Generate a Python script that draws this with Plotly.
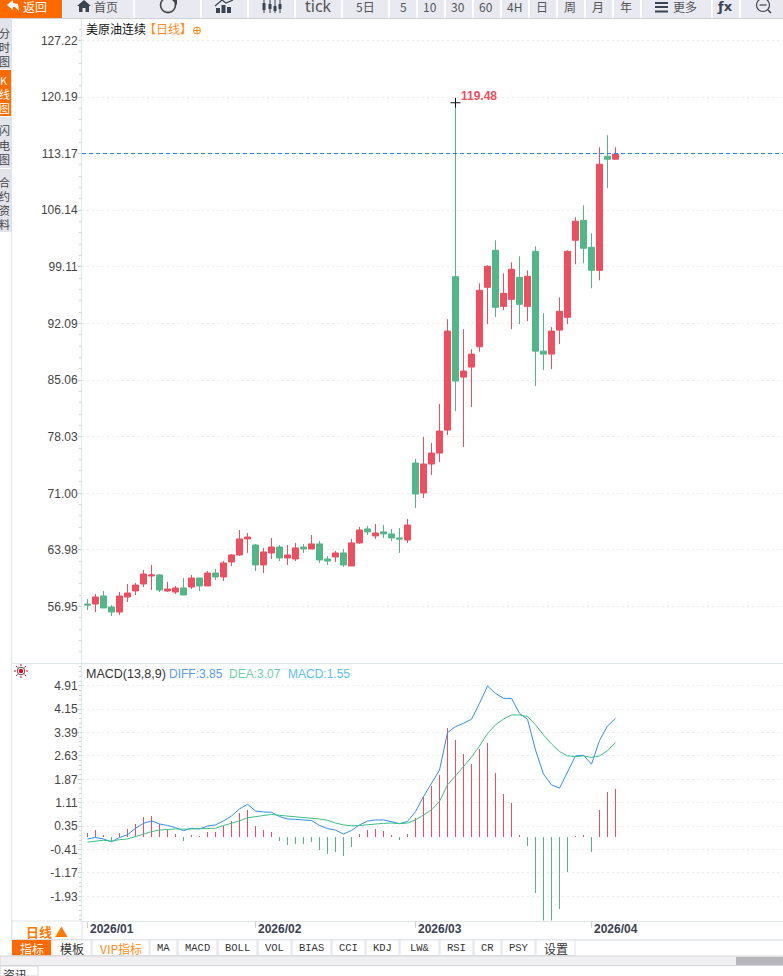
import math
import plotly.graph_objects as go

DATES = [
 "2026/01/02","2026/01/05","2026/01/06","2026/01/07","2026/01/08","2026/01/09","2026/01/12","2026/01/13","2026/01/14","2026/01/15","2026/01/16",
 "2026/01/19","2026/01/20","2026/01/21","2026/01/22","2026/01/23","2026/01/26","2026/01/27","2026/01/28","2026/01/29","2026/01/30",
 "2026/02/02","2026/02/03","2026/02/04","2026/02/05","2026/02/06","2026/02/09","2026/02/10","2026/02/11","2026/02/12","2026/02/13",
 "2026/02/16","2026/02/17","2026/02/18","2026/02/19","2026/02/20","2026/02/23","2026/02/24","2026/02/25","2026/02/26","2026/02/27",
 "2026/03/02","2026/03/03","2026/03/04","2026/03/05","2026/03/06","2026/03/09","2026/03/10","2026/03/11","2026/03/12","2026/03/13",
 "2026/03/16","2026/03/17","2026/03/18","2026/03/19","2026/03/20","2026/03/23","2026/03/24","2026/03/25","2026/03/26","2026/03/27",
 "2026/03/30","2026/03/31","2026/04/01","2026/04/02","2026/04/03","2026/04/06"]

OPEN = [57.26,57.26,58.26,56.89,56.27,58.13,58.88,59.75,60.74,60.87,58.88,58.75,59.25,59.37,60.49,59.50,61.11,60.62,62.48,63.35,65.34,
        64.59,62.11,63.60,64.34,62.98,62.85,64.34,64.09,64.72,62.85,63.10,63.60,61.98,64.84,66.58,65.71,66.21,65.96,65.46,65.21,
        74.76,71.04,74.64,76.00,78.85,97.88,85.43,86.67,89.19,96.57,101.17,94.21,95.08,97.81,94.21,101.04,88.65,88.28,91.26,92.85,
        102.41,104.89,101.54,98.68,112.84,112.47]
HIGH = [57.88,58.51,58.88,57.14,58.75,59.75,59.87,61.49,62.11,60.99,60.00,59.50,60.49,60.87,60.49,61.36,61.61,62.60,63.47,66.45,66.08,
        64.72,64.22,65.46,64.59,64.59,64.84,64.72,65.83,65.09,63.22,63.85,64.09,65.34,66.83,66.95,67.20,67.08,66.58,66.70,67.82,
        75.26,77.99,77.24,82.08,92.62,119.48,91.38,88.90,97.07,99.31,102.41,98.31,99.68,100.42,98.68,101.67,93.37,91.63,95.33,101.17,
        105.27,106.76,103.28,113.96,115.45,113.96]
LOW = [56.52,56.27,56.77,55.77,55.90,57.51,58.38,59.37,59.00,58.75,58.75,58.51,58.38,59.13,58.88,59.50,60.24,60.12,61.98,63.22,63.60,
       61.36,61.11,62.85,62.60,62.11,62.60,63.60,64.09,62.36,62.11,62.48,61.86,61.98,64.72,65.83,65.34,65.46,65.09,63.60,64.84,
       69.18,70.42,73.27,74.88,78.23,81.21,76.74,81.71,88.57,92.00,92.87,93.72,91.38,92.00,92.37,84.31,86.30,86.42,89.52,92.00,
       99.43,99.55,96.45,97.44,108.87,112.47]
CLOSE = [57.14,58.13,56.77,56.27,58.26,58.63,59.62,60.99,60.87,59.00,59.13,59.25,58.38,60.49,59.50,61.11,60.62,62.36,63.35,65.34,65.58,
         62.11,63.72,64.34,62.98,63.35,64.22,64.09,64.72,62.73,62.60,63.60,62.11,64.84,66.45,66.21,66.08,65.96,65.46,65.34,67.07,
         70.91,74.64,76.00,78.73,91.14,84.93,86.17,88.28,96.20,99.18,94.09,95.83,98.81,94.46,97.94,88.65,88.28,91.14,93.59,101.04,
         104.77,101.42,98.68,111.85,112.47,113.09]

DIFF = [-0.07,-0.02,-0.07,-0.16,-0.02,0.07,0.28,0.44,0.52,0.42,0.37,0.30,0.20,0.28,0.26,0.35,0.39,0.52,0.68,0.91,1.06,0.84,0.81,0.80,0.66,0.58,0.57,0.55,0.53,0.37,0.27,0.22,0.09,0.21,0.39,0.51,0.55,0.55,0.50,0.43,
        0.50,0.82,1.31,1.72,2.17,3.39,3.58,3.69,3.82,4.34,4.90,4.66,4.50,4.50,4.01,3.82,2.82,2.04,1.69,1.58,2.12,2.63,2.65,2.36,3.13,3.60,3.85]
DEA = [-0.17,-0.13,-0.11,-0.14,-0.09,-0.07,0.01,0.09,0.17,0.22,0.24,0.26,0.25,0.26,0.25,0.26,0.28,0.37,0.44,0.52,0.62,0.66,0.69,0.73,0.70,0.68,0.65,0.64,0.62,0.58,0.54,0.45,0.39,0.36,0.37,0.40,0.42,0.44,0.45,0.43,
       0.45,0.55,0.71,0.88,1.15,1.69,1.98,2.28,2.59,2.95,3.36,3.64,3.83,3.96,3.96,3.91,3.64,3.31,3.02,2.77,2.63,2.61,2.63,2.58,2.63,2.80,3.07]
MACD = [0.13,0.22,0.07,-0.13,0.11,0.26,0.43,0.65,0.69,0.41,0.22,0.10,-0.13,0.07,0.02,0.17,0.17,0.36,0.52,0.78,0.88,0.36,0.23,0.16,-0.13,-0.25,-0.22,-0.23,-0.16,-0.42,-0.55,-0.49,-0.62,-0.32,0.10,0.23,0.26,0.19,0.07,-0.10,
        0.10,0.61,1.30,1.66,2.01,3.54,3.15,2.69,2.37,2.86,3.05,2.08,1.40,1.10,0.06,-0.29,-1.82,-2.90,-2.90,-2.34,-1.14,0.02,0.05,-0.49,0.88,1.46,1.55]

PRICE_TICKS = [127.22,120.19,113.17,106.14,99.11,92.09,85.06,78.03,71.00,63.98,56.95]
MACD_TICKS = [4.91,4.15,3.39,2.63,1.87,1.11,0.35,-0.41,-1.17,-1.93]
MONTH_TICKS = {"2026/01/02":"2026/01","2026/02/02":"2026/02","2026/03/02":"2026/03","2026/04/01":"2026/04"}
LAST_PRICE = 113.17
PEAK = 119.48

W, H = 783, 976
RED, GREEN = "#ef4e60", "#52b788"
ORANGE = "#ff6a00"
BTN = "#e8e9f1"
SANS = "Liberation Sans"
CJK = "Noto Sans CJK SC"
GRID = "#e9e9e9"
AXISC = "#dde6e9"

def px(x): return x / W
def py(y): return 1 - y / H

shapes, notes = [], []

def rect(x0, y0, x1, y1, fill, line=None, lw=1):
    shapes.append(dict(type="rect", xref="paper", yref="paper", x0=px(x0), x1=px(x1), y0=py(y1), y1=py(y0),
                       fillcolor=fill, line=dict(color=line or fill, width=lw if line else 0)))

def seg(x0, y0, x1, y1, color, lw=1):
    shapes.append(dict(type="line", xref="paper", yref="paper", x0=px(x0), x1=px(x1), y0=py(y0), y1=py(y1),
                       line=dict(color=color, width=lw)))

def poly(points, fill=None, color=None, lw=1, close=True):
    d = "M" + " L".join(f"{px(a):.5f},{py(b):.5f}" for a, b in points) + (" Z" if close else "")
    shapes.append(dict(type="path", xref="paper", yref="paper", path=d, fillcolor=fill or "rgba(0,0,0,0)",
                       line=dict(color=color or "rgba(0,0,0,0)", width=lw)))

def circ(cx, cy, r, fill=None, color=None, lw=1):
    shapes.append(dict(type="circle", xref="paper", yref="paper", x0=px(cx - r), x1=px(cx + r), y0=py(cy + r), y1=py(cy - r),
                       fillcolor=fill or "rgba(0,0,0,0)", line=dict(color=color or "rgba(0,0,0,0)", width=lw)))

def txt(x, y, s, size=12, color="#333", font=SANS, anchor="center", bold=False):
    notes.append(dict(xref="paper", yref="paper", x=px(x), y=py(y), text=f"<b>{s}</b>" if bold else s, showarrow=False,
                      xanchor=anchor, yanchor="middle", font=dict(size=size, color=color, family=font), borderpad=0))

# top toolbar
DARK = "#3b4350"
rect(0, 0, 62, 18, ORANGE)
for a, b in [(63,133),(135,200),(202,247),(249,294),(296,341),(343,388),(390,416),(418,444),(446,472),(474,500),(502,528),
             (530,556),(558,584),(586,612),(614,640),(642,711),(713,739),(741,783)]:
    rect(a, 0, b, 18, BTN)
seg(0, 18.5, W, 18.5, "#cfd1d6")
poly([(7,5),(13,0),(13,3),(18,4),(19,11),(15,7),(13,7),(13,10)], fill="#ffffff")
txt(35, 6, "返回", 12, "#ffffff", CJK)
poly([(77,6),(84,0),(91,6),(89,6),(89,12),(85.5,12),(85.5,8),(82.5,8),(82.5,12),(79,12),(79,6)], fill=DARK)
txt(106, 6, "首页", 12, "#555", CJK)
arc = [(168 + 7.5 * math.cos(math.radians(t)), 5 + 7.5 * math.sin(math.radians(t))) for t in range(-20, 260, 20)]
poly(arc, color="#444", lw=1.6, close=False)
poly([(172,0),(177,0),(177,5)], fill="#444")
for a, b in [(216,8),(221.5,5),(227,7)]:
    rect(a, b, a + 4, 13, DARK)
poly([(215,6),(222,0),(226,3),(233,0)], color=DARK, lw=1.2, close=False)
for a, t, b in [(264,3,10),(270,4,9),(275,6,11),(280,4,9)]:
    seg(a, 0, a, 13, DARK)
    rect(a - 1.5, t, a + 1.5, b, DARK)
txt(318, 6, "tick", 16, "#555", "Noto Sans")
for x, s in [(365,"5日"),(403,"5"),(430,"10"),(458,"30"),(486,"60"),(514,"4H"),(542,"日"),(570,"周"),(598,"月"),(626,"年")]:
    txt(x, 6, s, 12, "#555", CJK)
for y in (2, 6, 10.5):
    rect(655, y, 668, y + 2, DARK)
txt(685, 6, "更多", 12, "#555", CJK)
txt(725, 6.5, "ƒx", 13, DARK, "DejaVu Sans", bold=True)
circ(763, 5, 6.5, color=DARK, lw=1.2)
seg(759.5, 5, 766.5, 5, DARK, 1.2)
seg(768, 10, 771, 13, DARK, 1.5)

# left tabs
seg(11.5, 18, 11.5, 940, AXISC)
rect(0, 19, 11, 69, "#e2e3eb")
rect(0, 70, 11, 116, ORANGE)
rect(0, 117, 11, 168, "#e2e3eb")
rect(0, 169, 11, 232, "#e2e3eb")
for y, s, c in [(33,"分","#444"),(47,"时","#444"),(61,"图","#444"),(80,"K","#fff"),(94,"线","#fff"),(108,"图","#fff"),
                (130,"闪","#444"),(145,"电","#444"),(159,"图","#444"),(182,"合","#444"),(196,"约","#444"),(210,"资","#444"),(224,"料","#444")]:
    txt(4, y, s, 11, c, CJK)

# chart titles
txt(84.5, 28.5, "美原油连续", 12, "#111", CJK, "left")
txt(143, 28.5, "【日线】", 12, "#ff8c1a", CJK, "left")
circ(197, 30.5, 3.5, color="#ff8c1a", lw=1)
seg(193.5, 30.5, 200.5, 30.5, "#ff8c1a")
seg(197, 27, 197, 34, "#ff8c1a")
txt(85, 674, "MACD(13,8,9)", 12.5, "#333", SANS, "left")
txt(167.5, 674, "DIFF:3.85", 12, "#5b9bf5", SANS, "left")
txt(228, 674, "DEA:3.07", 12, "#6fd0a0", SANS, "left")
txt(287, 674, "MACD:1.55", 12, "#5cc0f0", SANS, "left")

# indicator lamp
circ(21, 671, 2.2, fill="#e8001c")
circ(21, 671, 3.8, color="#222", lw=0.8)
for k in range(8):
    a = k * math.pi / 4
    seg(21 + 5 * math.cos(a), 671 + 5 * math.sin(a), 21 + 7 * math.cos(a), 671 + 7 * math.sin(a), "#e8001c", 1)

# bottom bar
rect(12, 921, 82, 939.5, "#ffffff", "#dfe3e6")
txt(47, 931, "日线 ▲", 13, "#ff7a00", CJK, bold=True)
seg(12, 940, W, 940, "#d5dade")
TABS = [(12,51,"指标"),(52,91,"模板"),(92,149,"VIP指标"),(150,177,"MA"),(178,217,"MACD"),(218,257,"BOLL"),(258,291,"VOL"),
        (292,331,"BIAS"),(332,365,"CCI"),(366,399,"KDJ"),(400,439,"LW&"),(440,473,"RSI"),(474,501,"CR"),(502,535,"PSY"),(536,575,"设置")]
for a, b, s in TABS:
    on = s == "指标"
    rect(a, 940, b, 955.5, ORANGE if on else "#ffffff", None if on else "#dfe3e6")
    col = "#ffffff" if on else ("#ff8c1a" if s == "VIP指标" else "#333")
    txt((a + b) / 2, 948, s, 12 if s[0] > "~" or s == "VIP指标" else 10.5, col, CJK if s[0] > "~" or s == "VIP指标" else "Liberation Mono")
rect(0, 956, W, 965.5, "#f0f0f2", "#d5d6da")
rect(736, 957, W, 965, "#b6b6bc")
rect(0, 966, 38, 976, "#ffffff", "#d5d6da")
txt(15, 974, "资讯", 12, "#333", CJK)

for d, s in MONTH_TICKS.items():
    notes.append(dict(xref="x2", yref="paper", x=d, y=py(929), text=f"<b>{s}</b>", showarrow=False, xanchor="left", xshift=1,
                      yanchor="middle", font=dict(size=12, color="#3a4254", family=SANS), borderpad=0))
notes.append(dict(xref="x", yref="y", x=DATES[HIGH.index(PEAK)], y=PEAK, text=f"<b>{PEAK}</b>", showarrow=False, xanchor="left", xshift=4,
                  yanchor="middle", yshift=7, font=dict(size=12, color="#ef4e60", family=SANS), borderpad=0))

# last-price line
shapes.append(dict(type="line", xref="paper", yref="y", x0=px(82), x1=1, y0=LAST_PRICE, y1=LAST_PRICE,
                   line=dict(color="#1e7fe0", width=1, dash="4px,3px")))

fig = go.Figure()
fig.add_trace(go.Candlestick(x=DATES, open=OPEN, high=HIGH, low=LOW, close=CLOSE, xaxis="x", yaxis="y", whiskerwidth=0,
                             increasing=dict(line=dict(color=RED, width=1), fillcolor=RED),
                             decreasing=dict(line=dict(color=GREEN, width=1), fillcolor=GREEN), showlegend=False))
fig.add_trace(go.Scatter(x=[DATES[HIGH.index(PEAK)]], y=[PEAK], mode="markers", xaxis="x", yaxis="y", showlegend=False,
                         marker=dict(symbol="cross-thin", size=7, line=dict(color="#111", width=1))))
fig.add_trace(go.Bar(x=DATES, y=MACD, width=0.1, xaxis="x2", yaxis="y2", showlegend=False,
                     marker=dict(color=[RED if v >= 0 else GREEN for v in MACD], line=dict(width=0))))
fig.add_trace(go.Scatter(x=DATES, y=DIFF, mode="lines", xaxis="x2", yaxis="y2", line=dict(color="#2f8ff5", width=1), showlegend=False))
fig.add_trace(go.Scatter(x=DATES, y=DEA, mode="lines", xaxis="x2", yaxis="y2", line=dict(color="#3cbf85", width=1), showlegend=False))

XR = [(82 - 87.5) / 8, (783 - 87.5) / 8]
axis_y = dict(tickmode="array", ticks="outside", ticklen=3, tickcolor="#ccd3d6", showline=True, linecolor=AXISC, linewidth=1,
              showgrid=True, gridcolor=GRID, griddash="2px,3px", gridwidth=1, zeroline=False, ticklabelstandoff=-2,
              tickfont=dict(size=12, color="#444", family=SANS))
fig.update_layout(
    width=W, height=H, autosize=False, margin=dict(l=0, r=0, t=0, b=0), paper_bgcolor="#ffffff", plot_bgcolor="#ffffff",
    showlegend=False, boxgap=0.25, boxgroupgap=0, bargap=0, hovermode=False, shapes=shapes, annotations=notes,
    xaxis=dict(type="category", domain=[px(82), 1], range=XR, anchor="y", showticklabels=False, ticks="", showgrid=False,
               rangeslider=dict(visible=False), showline=False, zeroline=False, categoryorder="array", categoryarray=DATES),
    xaxis2=dict(type="category", domain=[px(82), 1], range=XR, anchor="y2", tickmode="array", tickvals=list(MONTH_TICKS), ticktext=["" for _ in MONTH_TICKS],
                ticks="outside", ticklen=6, tickcolor="#ccd3d6", showgrid=False, showline=True, linecolor=AXISC, zeroline=False,
                categoryorder="array", categoryarray=DATES),
    yaxis=dict(domain=[py(663), py(18)], range=[49.94, 130.0], anchor="x", tickvals=PRICE_TICKS, ticktext=[f"{v:.2f}" for v in PRICE_TICKS],
               minor=dict(tickmode="linear", tick0=56.95, dtick=7.027 / 5, ticks="outside", ticklen=2, tickcolor="#ccd3d6", showgrid=False), **axis_y),
    yaxis2=dict(domain=[py(920.5), py(664)], range=[-2.716, 5.615], anchor="x2", tickvals=MACD_TICKS, ticktext=[f"{v:.2f}" for v in MACD_TICKS],
                minor=dict(tickmode="linear", tick0=0.35, dtick=0.152, ticks="outside", ticklen=2, tickcolor="#ccd3d6", showgrid=False), **axis_y),
)
seg_top = dict(type="line", xref="paper", yref="paper", x0=px(12), x1=1, y0=py(663.5), y1=py(663.5), line=dict(color=AXISC, width=1))
fig.add_shape(**seg_top)

fig.write_html("out.html", config=dict(displayModeBar=False, responsive=False),
               post_script="document.body.style.margin='0';document.documentElement.style.overflow='hidden';")
